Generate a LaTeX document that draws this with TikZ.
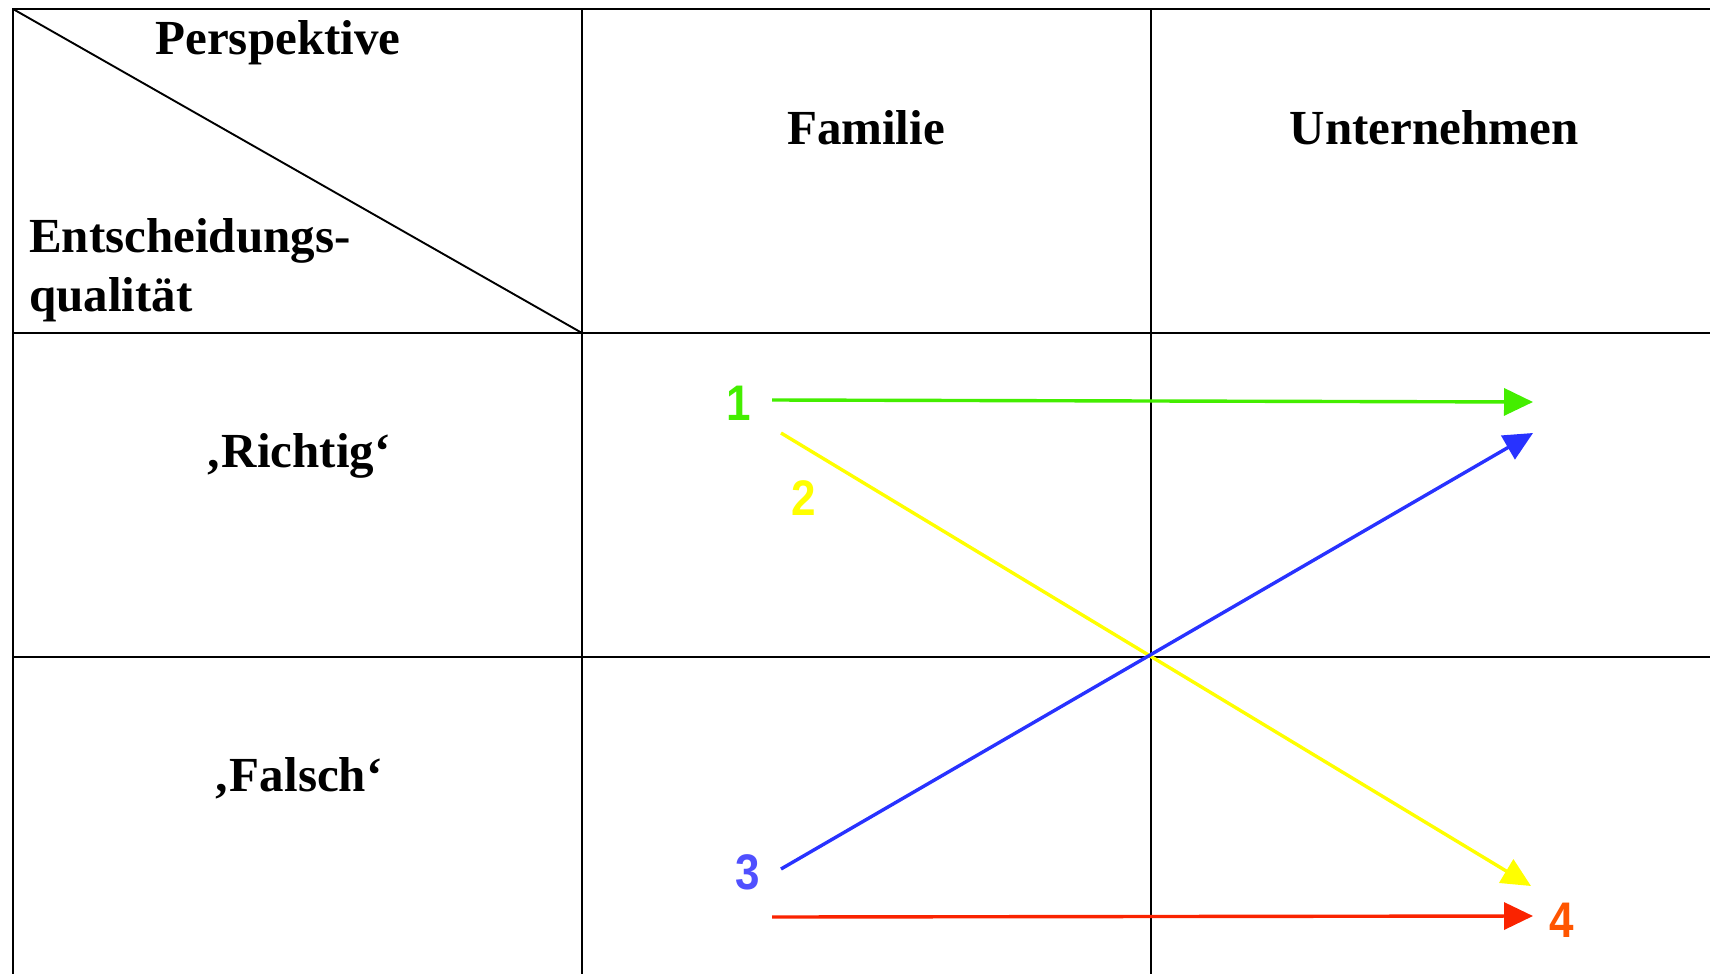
\documentclass[tikz,border=0pt]{standalone}
\usepackage{fontspec}
\setmainfont{Liberation Serif}
\newfontfamily\digitfont{Liberation Sans}
\usetikzlibrary{arrows.meta}
\definecolor{cgreen}{RGB}{68,238,0}
\definecolor{cyellow}{RGB}{255,255,0}
\definecolor{cblue}{RGB}{40,50,255}
\definecolor{cblueT}{RGB}{80,80,255}
\definecolor{cred}{RGB}{250,35,0}
\definecolor{corange}{RGB}{255,85,0}
\newcommand{\cond}[1]{\scalebox{0.88}[1]{#1}}
\begin{document}
\begin{tikzpicture}[x=1pt,y=-1pt,
  grid/.style={line width=2pt,black},
  lbl/.style={inner sep=0pt,anchor=base,font=\fontsize{49}{58}\selectfont\bfseries},
  num/.style={inner sep=0pt,anchor=base,font=\fontsize{50}{58}\selectfont\digitfont\bfseries},
  arr/.style={line width=3.4pt,-{Triangle[length=29pt,width=27pt]}}]
\useasboundingbox (0,0) rectangle (1710,974);
\fill[white] (0,0) rectangle (1710,974);
% grid
\coordinate (tl) at (13,9);
\coordinate (tr) at (1710,9);
\coordinate (c1) at (582,9);
\coordinate (c2) at (1151,9);
\coordinate (d) at (582,333);
\coordinate (m) at (1151,657);
\draw[grid] (tr) -- (tl) -- (13,974);
\draw[grid] (c1) -- (582,974);
\draw[grid] (c2) -- (1151,974);
\draw[grid] (13,333) -- (1710,333);
\draw[grid] (13,657) -- (1710,657);
\draw[line width=1.9pt] (tl) -- (d);
% labels
\node[lbl] (persp) at (278,55) {Perspektive};
\node[lbl,anchor=base west] (ent) at (29,252) {Entscheidungs-};
\node[lbl,anchor=base west] (qual) at (29,311) {qualität};
\node[lbl] (fam) at (866,144) {Familie};
\node[lbl] (unt) at (1434,144) {Unternehmen};
\node[lbl] (richtig) at (298,467) {‚Richtig‘};
\node[lbl] (falsch) at (298,791) {‚Falsch‘};
% numbers
\node[num,text=cgreen] (n1) at (739,420) {\cond{1}};
\node[num,text=cyellow] (n2) at (804,515) {\cond{2}};
\node[num,text=cblueT] (n3) at (748,889) {\cond{3}};
\node[num,text=corange] (n4) at (1562,937) {\cond{4}};
% arrow endpoints
\coordinate (g0) at (772,400);
\coordinate (g1) at (1533,402);
\coordinate (y0) at (781,433);
\coordinate (y1) at (1531,886);
\coordinate (b0) at (781,869);
\coordinate (b1) at (1533,433);
\coordinate (r0) at (772,917);
\coordinate (r1) at (1533,916);
\draw[arr,cgreen] (g0) -- (g1);
\draw[arr,cyellow] (y0) -- (y1);
\draw[arr,cblue] (b0) -- (b1);
\draw[arr,cred] (r0) -- (r1);
\end{tikzpicture}
\end{document}
